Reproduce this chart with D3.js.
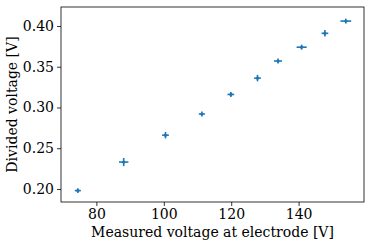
<!DOCTYPE html>
<html>
<head>
<meta charset="utf-8">
<script src="https://cdn.jsdelivr.net/npm/d3@7"></script>
<style>
  body { margin: 0; background: #fff; }
  svg { display: block; }
</style>
</head>
<body>
<svg id="chart" width="374" height="246"></svg>
<script>
// measured voltage at electrode [V] and divided voltage [V], with error bars
const measured = [74.5, 88.1, 100.5, 111.3, 119.9, 127.8, 133.9, 140.9, 147.8, 154.0];
const divided  = [0.198, 0.233, 0.266, 0.292, 0.316, 0.336, 0.357, 0.374, 0.391, 0.406];
const measErr  = [0.9, 1.4, 1.0, 0.9, 1.0, 1.0, 1.2, 1.5, 1.0, 1.6];
const divErr   = [0.003, 0.005, 0.004, 0.003, 0.003, 0.004, 0.003, 0.003, 0.004, 0.003];
const xTicks = [80, 100, 120, 140];
const yTicks = [0.20, 0.25, 0.30, 0.35, 0.40];

const margin = { top: 7, right: 10, bottom: 44, left: 61 };
const W = 374, H = 246;
const w = W - margin.left - margin.right;
const h = H - margin.top - margin.bottom;
const color = '#1f77b4';
const font = 'DejaVu Serif, serif';

const x = d3.scaleLinear().domain([69.5, 159.4]).range([0, w]);
const y = d3.scaleLinear().domain([0.184, 0.4233]).range([h, 0]);

const svg = d3.select('#chart');
const g = svg.append('g').attr('transform', `translate(${margin.left},${margin.top})`);

const pts = measured.map((m, i) => ({ x: m, y: divided[i], xe: measErr[i], ye: divErr[i] }));

// error bars
const eb = g.append('g').attr('stroke', color).attr('stroke-width', 1.6);
eb.selectAll('line.h').data(pts).join('line')
  .attr('x1', d => x(d.x - d.xe)).attr('x2', d => x(d.x + d.xe))
  .attr('y1', d => y(d.y)).attr('y2', d => y(d.y));
eb.selectAll('line.v').data(pts).join('line')
  .attr('x1', d => x(d.x)).attr('x2', d => x(d.x))
  .attr('y1', d => y(d.y - d.ye)).attr('y2', d => y(d.y + d.ye));
g.append('g').selectAll('circle').data(pts).join('circle')
  .attr('cx', d => x(d.x)).attr('cy', d => y(d.y)).attr('r', 1.6)
  .attr('fill', color);

// axes
const xAx = g.append('g').attr('transform', `translate(0,${h})`)
  .call(d3.axisBottom(x).tickValues(xTicks).tickFormat(d3.format('d')).tickSize(4).tickPadding(3));
const yAx = g.append('g')
  .call(d3.axisLeft(y).tickValues(yTicks).tickFormat(d3.format('.2f')).tickSize(4).tickPadding(3));
[xAx, yAx].forEach(sel => {
  sel.select('.domain').remove();
  sel.selectAll('text').style('font-size', '14px').style('font-family', font).attr('fill', '#000');
  sel.selectAll('.tick line').attr('stroke', '#000').attr('stroke-width', 0.8);
});

g.append('rect').attr('width', w).attr('height', h)
  .attr('fill', 'none').attr('stroke', '#000').attr('stroke-width', 0.8);

g.append('text')
  .attr('x', w / 2).attr('y', h + 35)
  .attr('text-anchor', 'middle').attr('font-family', font).attr('font-size', 14)
  .text('Measured voltage at electrode [V]');
g.append('text')
  .attr('transform', 'rotate(-90)').attr('x', -h / 2).attr('y', -44)
  .attr('text-anchor', 'middle').attr('font-family', font).attr('font-size', 14)
  .text('Divided voltage [V]');
</script>
</body>
</html>
